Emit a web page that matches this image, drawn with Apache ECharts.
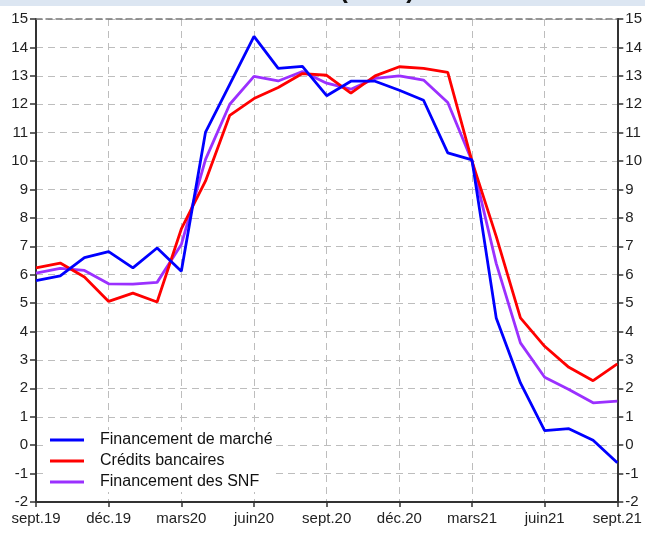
<!DOCTYPE html>
<html>
<head>
<meta charset="utf-8">
<script src="https://cdn.jsdelivr.net/npm/echarts@6/dist/echarts.min.js"></script>
<style>html,body{margin:0;padding:0;background:#fff}#c{width:645px;height:533px}</style>
</head>
<body>
<div id="c"></div>
<script>
const months = ['sept.19','oct.19','nov.19','déc.19','janv.20','févr.20','mars20','avr.20','mai20','juin20','juil.20','août20','sept.20','oct.20','nov.20','déc.20','janv.21','févr.21','mars21','avr.21','mai21','juin21','juil.21','août21','sept.21'];
const marche = [5.79, 5.96, 6.6, 6.81, 6.24, 6.94, 6.12, 11.02, 12.7, 14.39, 13.26, 13.33, 12.3, 12.81, 12.81, 12.49, 12.14, 10.29, 10.04, 4.48, 2.19, 0.51, 0.58, 0.17, -0.62];
const credits = [6.24, 6.41, 5.92, 5.06, 5.35, 5.04, 7.61, 9.3, 11.61, 12.2, 12.59, 13.08, 13.02, 12.39, 13.0, 13.32, 13.26, 13.12, 10.0, 7.35, 4.48, 3.48, 2.74, 2.27, 2.86];
const snf = [6.06, 6.22, 6.15, 5.68, 5.67, 5.73, 7.06, 10.06, 12.0, 12.98, 12.82, 13.15, 12.74, 12.53, 12.91, 13.0, 12.85, 12.06, 10.0, 6.4, 3.6, 2.39, 1.96, 1.49, 1.55];
const seriesNames = ['Financement de marché', 'Crédits bancaires', 'Financement des SNF'];
const titleText = '(en %)';

const FONT = '"Liberation Sans", Arial, sans-serif';
const chart = echarts.init(document.getElementById('c'), null, {renderer: 'canvas'});
const yAxisCommon = {
  type: 'value', min: -2, max: 15, interval: 1,
  axisLine: {show: true, onZero: false, lineStyle: {color: '#333', width: 2}},
  axisTick: {show: true, inside: false, length: 6, lineStyle: {color: '#333', width: 1.5}},
  axisLabel: {color: '#222', fontSize: 15, fontFamily: FONT, margin: 8}
};
chart.setOption({
  animation: false,
  backgroundColor: '#fff',
  graphic: [
    {type: 'rect', shape: {x: 0, y: 0, width: 645, height: 6}, style: {fill: '#dce6f2'}, z: 0},
    {type: 'text', x: 377, y: -9, style: {text: titleText, fontSize: 25, fontWeight: 'bold', fontFamily: FONT, fill: '#111', align: 'center', verticalAlign: 'middle'}, z: 1}
  ],
  grid: {left: 36, right: 24, top: 19, bottom: 31, containLabel: false},
  legend: {
    orient: 'vertical', left: 48, top: 430,
    icon: 'rect', itemWidth: 34, itemHeight: 3, itemGap: 5,
    backgroundColor: '#fff', padding: [2, 2, 2, 2],
    textStyle: {fontSize: 16, fontFamily: FONT, color: '#111', padding: [0, 0, 0, 11], lineHeight: 16},
    data: seriesNames
  },
  xAxis: [{
    type: 'category', data: months, boundaryGap: false,
    axisLine: {show: true, onZero: false, lineStyle: {color: '#333', width: 2}},
    axisTick: {show: true, interval: 2, length: 5, lineStyle: {color: '#333', width: 1.5}},
    axisLabel: {interval: 2, color: '#222', fontSize: 15, fontFamily: FONT, margin: 9},
    splitLine: {show: true, interval: 2, lineStyle: {color: '#bdbdbd', type: [7, 5], width: 1}}
  }, {
    type: 'category', data: months, boundaryGap: false, position: 'top',
    axisLine: {show: true, onZero: false, lineStyle: {color: '#777', type: [6, 4], width: 1.5}},
    axisTick: {show: false}, axisLabel: {show: false}, splitLine: {show: false}
  }],
  yAxis: [
    Object.assign({}, yAxisCommon, {position: 'left',
      splitLine: {show: true, lineStyle: {color: '#bdbdbd', type: [7, 5], width: 1}}}),
    Object.assign({}, yAxisCommon, {position: 'right', splitLine: {show: false}})
  ],
  series: [
    {name: seriesNames[0], type: 'line', data: marche, showSymbol: false, lineStyle: {color: '#0000ff', width: 2.8}, itemStyle: {color: '#0000ff'}, z: 5},
    {name: seriesNames[1], type: 'line', data: credits, showSymbol: false, lineStyle: {color: '#ff0000', width: 2.8}, itemStyle: {color: '#ff0000'}, z: 4},
    {name: seriesNames[2], type: 'line', data: snf, showSymbol: false, lineStyle: {color: '#9b30ff', width: 2.8}, itemStyle: {color: '#9b30ff'}, z: 3}
  ]
});
</script>
</body>
</html>
